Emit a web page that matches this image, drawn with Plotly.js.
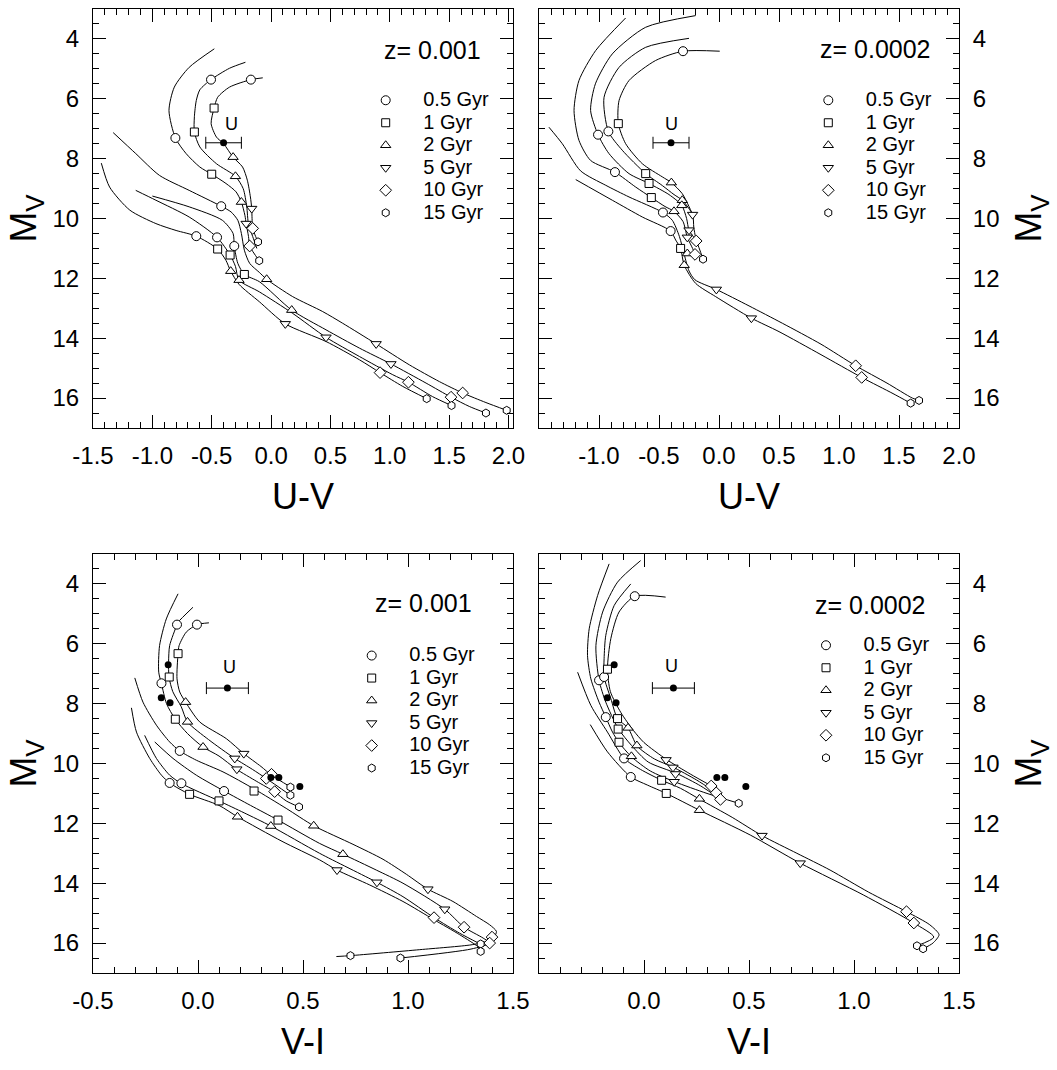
<!DOCTYPE html>
<html>
<head>
<meta charset="utf-8">
<script src="https://cdn.plot.ly/plotly-3.0.1.min.js"></script>
<style>html,body{margin:0;padding:0;background:#fff;}#chart{width:1057px;height:1070px;}</style>
</head>
<body>
<div id="chart"></div>
<script>
// ---------------- DATA ----------------
const ageLabels = ['0.5 Gyr', '1 Gyr', '2 Gyr', '5 Gyr', '10 Gyr', '15 Gyr'];
const metallicityLabels = ['z= 0.001', 'z= 0.0002', 'z= 0.001', 'z= 0.0002'];
const xTitles = ['U-V', 'U-V', 'V-I', 'V-I'];

// tick values / labels
const uvTickValsL = [-1.5, -1.0, -0.5, 0.0, 0.5, 1.0, 1.5, 2.0];
const uvTickValsR = [-1.0, -0.5, 0.0, 0.5, 1.0, 1.5, 2.0];
const viTickValsL = [-0.5, 0.0, 0.5, 1.0, 1.5];
const viTickValsR = [0.0, 0.5, 1.0, 1.5];
const mvTickVals = [4, 6, 8, 10, 12, 14, 16];

// observed object "U"
const uObjUV = {x: -0.40, y: 7.47, err: 0.15};
const uObjVI = {x: 0.14, y: 7.48, err: 0.10};

// observed stars (filled dots), V-I panels
const obsVIx = [-0.142, -0.175, -0.133, 0.347, 0.385, 0.485];
const obsVIy = [6.70, 7.80, 7.97, 10.47, 10.47, 10.77];

// ---- Top-left: U-V, z=0.001 : tracks
const tlTrackX = [
  [-0.478,-0.69,-0.815,-0.86,-0.806,-0.716,-0.60,-0.50,-0.38,-0.295,-0.25,-0.22,-0.21,-0.19,-0.18,-0.10],
  [-0.216,-0.35,-0.506,-0.60,-0.63,-0.646,-0.646,-0.60,-0.46,-0.30,-0.235,-0.205,-0.19,-0.155,-0.12],
  [-0.07,-0.17,-0.35,-0.45,-0.48,-0.505,-0.46,-0.40,-0.32,-0.24,-0.20,-0.174,-0.163,-0.16,-0.155,-0.13,-0.11],
  [-1.33,-1.14,-0.94,-0.69,-0.42,-0.337,-0.28,-0.25,-0.225,-0.18,-0.099,-0.037,0.182,0.435,0.603,0.885,1.165,1.418,1.614,1.81,1.985],
  [-1.43,-1.36,-1.19,-0.97,-0.80,-0.63,-0.45,-0.38,-0.34,-0.27,-0.099,0.12,0.463,0.744,0.918,1.109,1.311],
  [-1.14,-0.97,-0.69,-0.455,-0.345,-0.30,-0.27,-0.099,0.182,0.463,0.744,1.025,1.157,1.36,1.52],
  [-1.0,-0.69,-0.41,-0.32,-0.31,-0.28,-0.225,-0.099,0.174,0.463,0.744,1.01,1.306,1.516,1.67,1.81]
];
const tlTrackY = [
  [4.33,4.95,5.61,6.39,7.31,7.83,8.28,8.52,8.83,9.11,9.45,9.9,10.17,10.6,10.92,11.41],
  [4.78,4.98,5.36,5.7,6.06,6.6,7.11,7.61,8.17,8.59,9.0,9.6,10.2,10.6,11.0],
  [5.30,5.36,5.61,5.95,6.31,6.83,7.28,7.5,7.95,8.28,8.72,9.28,9.67,10.0,10.33,10.6,10.78],
  [7.13,7.83,8.56,9.06,9.59,9.78,10.06,10.5,11.06,11.5,11.8,12.03,12.61,13.11,13.5,14.19,14.89,15.45,15.83,16.15,16.41],
  [8.15,8.95,9.72,10.17,10.4,10.59,11.02,11.4,11.76,12.2,12.78,13.52,14.11,14.72,15.15,15.61,16.02],
  [9.06,9.39,9.95,10.63,11.22,11.6,12.06,12.45,13.17,13.97,14.61,15.22,15.47,15.95,16.25],
  [9.25,9.61,10.06,10.5,10.92,11.5,11.87,12.11,13.06,13.72,14.33,14.86,15.5,15.97,16.28,16.5]
];
// age markers (0.5,1,2,5,10,15 Gyr)
const tlAgeX = [
  [-0.506,-0.17,-0.806,-0.42,-0.63,-0.455,-0.31],
  [-0.48,-0.646,-0.50,-0.45,-0.345,-0.225],
  [-0.32,-0.30,-0.25,-0.34,-0.27,-0.037,0.174],
  [-0.163,-0.21,0.12,0.463,0.885,1.01],
  [-0.155,-0.18,0.918,1.157,1.516,1.614],
  [-0.11,-0.10,1.311,1.52,1.81,1.985]
];
const tlAgeY = [
  [5.36,5.36,7.31,9.59,10.59,10.63,10.92],
  [6.31,7.11,8.52,11.02,11.22,11.87],
  [7.95,8.59,9.45,11.76,12.06,12.03,13.06],
  [9.67,10.17,13.52,13.97,14.19,14.86],
  [10.33,10.92,15.15,15.47,15.97,15.83],
  [10.78,11.41,16.02,16.25,16.5,16.41]
];

// ---- Top-right: U-V, z=0.0002 : tracks
const trTrackX = [
  [-0.778,-1.028,-1.167,-1.208,-1.167,-1.07,-0.867,-0.694,-0.564,-0.45,-0.375,-0.30,-0.264,-0.22,-0.20],
  [-0.194,-0.611,-0.889,-1.03,-1.07,-1.008,-0.917,-0.75,-0.583,-0.417,-0.31,-0.27,-0.25,-0.19,-0.133],
  [-0.25,-0.611,-0.833,-0.958,-0.922,-0.806,-0.611,-0.472,-0.375,-0.306,-0.22,-0.21,-0.19],
  [0.006,-0.30,-0.528,-0.75,-0.833,-0.839,-0.778,-0.639,-0.472,-0.397,-0.306,-0.25,-0.22],
  [-1.417,-1.306,-1.153,-0.944,-0.75,-0.467,-0.389,-0.33,-0.29,-0.25,-0.20,-0.022,0.25,0.528,0.85,1.139,1.40,1.611,1.667],
  [-1.194,-0.889,-0.639,-0.403,-0.361,-0.32,-0.29,-0.194,-0.028,0.27,0.50,0.85,1.189,1.45,1.597]
];
const trTrackY = [
  [3.3,4.39,5.39,6.39,7.39,8.06,8.45,8.95,9.3,9.6,9.76,10.1,10.63,11.0,11.2],
  [3.22,3.61,4.5,5.5,6.39,7.2,7.83,8.5,8.83,9.2,9.56,10.0,10.39,10.75,11.36],
  [3.98,4.28,4.95,5.95,7.09,7.72,8.5,8.9,9.2,9.39,9.87,10.3,10.75],
  [4.41,4.41,4.72,5.39,6.06,6.83,7.5,8.17,8.61,8.8,9.17,9.6,9.87],
  [6.95,7.5,8.41,8.89,9.28,9.8,10.06,10.6,11.2,11.75,12.05,12.37,12.92,13.5,14.2,14.92,15.5,16.0,16.08],
  [8.7,9.39,9.95,10.42,10.72,11.0,11.56,12.17,12.61,13.33,13.78,14.55,15.31,15.85,16.17]
];
const trAgeX = [
  [-0.30,-0.922,-1.008,-0.867,-0.467,-0.403],
  [-0.839,-0.611,-0.583,-0.564,-0.32],
  [-0.397,-0.306,-0.31,-0.375,-0.264,-0.29],
  [-0.22,-0.25,-0.264,-0.022,0.27],
  [-0.19,-0.20,1.139,1.189],
  [-0.133,1.597,1.667]
];
const trAgeY = [
  [4.41,7.09,7.2,8.45,9.8,10.42],
  [6.83,8.5,8.83,9.3,11.0],
  [8.8,9.39,9.56,9.76,11.17,11.56],
  [9.87,10.39,10.63,12.37,13.33],
  [10.75,11.2,14.92,15.31],
  [11.36,16.17,16.08]
];

// ---- Bottom-left: V-I, z=0.001 : tracks
const blTrackX = [
  [-0.095,-0.151,-0.183,-0.187,-0.174,-0.15,-0.108,-0.05,0.024,0.10,0.183,0.28,0.365,0.42,0.481],
  [-0.024,-0.095,-0.10,-0.135,-0.14,-0.138,-0.12,-0.08,-0.05,0.05,0.175,0.26,0.325,0.44],
  [0.052,-0.005,-0.056,-0.09,-0.095,-0.10,-0.087,-0.059,0.008,0.135,0.218,0.30,0.35,0.44],
  [-0.301,-0.262,-0.198,-0.135,-0.087,-0.008,0.119,0.267,0.42,0.551,0.738,0.881,0.992,1.095,1.214,1.326,1.389,1.421,1.41,1.37,1.30,1.056,0.726,0.659],
  [-0.317,-0.293,-0.23,-0.174,-0.135,-0.04,0.10,0.188,0.40,0.579,0.662,0.818,0.976,1.124,1.246,1.341,1.346],
  [-0.254,-0.198,-0.135,-0.079,0.10,0.22,0.347,0.579,0.852,0.976,1.124,1.246,1.341],
  [-0.206,-0.119,-0.008,0.124,0.25,0.381,0.579,0.69,0.849,0.976,1.175,1.267,1.357,1.389,1.30,0.964]
];
const blTrackY = [
  [4.33,5.17,6.06,6.95,7.33,8.0,8.52,9.0,9.45,9.75,10.19,10.6,10.95,11.25,11.45],
  [4.78,5.28,5.36,6.06,6.6,7.11,7.6,8.1,8.61,9.2,9.83,10.2,10.5,11.06],
  [5.3,5.36,5.61,6.06,6.33,7.17,7.61,7.95,8.61,9.17,9.67,10.1,10.39,10.78],
  [7.14,7.95,8.72,9.28,9.58,9.89,10.28,10.85,11.5,12.08,12.7,13.2,13.7,14.2,14.61,15.11,15.39,15.61,15.8,15.95,16.06,16.22,16.42,16.45],
  [8.14,8.95,9.83,10.39,10.65,11.03,11.4,11.78,12.6,13.22,13.56,14.06,14.61,15.22,15.72,16.17,16.28],
  [9.06,9.83,10.39,10.67,11.25,11.65,12.09,13.0,13.97,14.45,15.15,15.67,16.02],
  [9.28,9.83,10.39,10.92,11.4,11.89,12.67,13.03,13.56,14.0,14.87,15.47,15.83,16.0,16.2,16.5]
];
const blAgeX = [
  [-0.10,-0.005,-0.174,-0.087,-0.135,-0.079,0.124],
  [-0.095,-0.137,-0.108,-0.04,0.10,0.267,0.381],
  [-0.059,-0.05,0.024,0.188,0.347,0.551,0.69],
  [0.218,0.175,0.185,0.662,0.852,1.095,1.175],
  [0.35,0.325,0.365,1.124,1.267,1.40,1.389],
  [0.44,0.44,0.481,1.346,1.346,0.726,0.964]
];
const blAgeY = [
  [5.36,5.36,7.32,9.58,10.65,10.66,10.92],
  [6.33,7.11,8.52,11.03,11.25,10.92,11.89],
  [7.95,8.61,9.45,11.78,12.09,12.08,13.03],
  [9.67,9.83,10.19,13.56,13.97,14.2,14.87],
  [10.36,10.5,10.94,15.15,15.47,15.8,16.0],
  [10.79,11.06,11.45,16.03,16.28,16.42,16.5]
];

// ---- Bottom-right: V-I, z=0.0002 : tracks
const brTrackX = [
  [-0.166,-0.221,-0.261,-0.269,-0.253,-0.214,-0.182,-0.15,-0.119,-0.059,0.03,0.146,0.30,0.451],
  [-0.016,-0.126,-0.197,-0.229,-0.214,-0.182,-0.123,-0.059,0.02,0.155,0.27,0.364],
  [-0.063,-0.142,-0.182,-0.19,-0.19,-0.158,-0.126,-0.076,-0.032,0.05,0.135,0.25,0.343],
  [0.103,-0.044,-0.119,-0.158,-0.174,-0.16,-0.11,-0.05,0.0,0.108,0.22,0.321],
  [-0.316,-0.253,-0.174,-0.095,-0.016,0.084,0.174,0.264,0.42,0.562,0.728,0.886,1.07,1.25,1.361,1.405,1.376,1.329],
  [-0.256,-0.174,-0.063,0.016,0.106,0.264,0.506,0.744,1.044,1.285,1.38,1.30]
];
const brTrackY = [
  [3.33,4.39,5.5,6.39,7.17,7.95,8.45,8.95,9.3,9.78,10.25,10.61,11.0,11.33],
  [3.22,3.94,4.94,6.06,7.22,7.95,8.83,9.4,9.95,10.33,10.75,11.19],
  [4.0,4.72,5.72,6.5,7.11,7.83,8.5,8.81,9.42,9.85,10.11,10.55,10.97],
  [4.44,4.41,4.94,5.83,6.83,7.6,8.3,8.9,9.3,9.87,10.35,10.75],
  [6.95,8.06,8.95,9.83,10.2,10.56,10.83,11.19,11.8,12.41,13.0,13.56,14.3,14.95,15.39,15.72,16.0,16.19],
  [8.7,9.61,10.45,10.72,11.0,11.56,12.39,13.33,14.39,15.33,15.8,16.09]
];
const brAgeX = [
  [-0.044,-0.214,-0.19,-0.182,-0.095,-0.063],
  [-0.174,-0.126,-0.123,-0.119,0.084,0.106],
  [-0.076,-0.034,-0.06,0.264,0.264],
  [0.105,0.138,0.15,0.144,0.562,0.744],
  [0.32,0.344,0.364,1.25,1.285],
  [0.451,1.30,1.329]
];
const brAgeY = [
  [4.41,7.22,7.11,8.45,9.83,10.45],
  [6.85,8.5,8.85,9.29,10.56,11.0],
  [8.81,9.4,9.76,11.18,11.56],
  [9.88,10.13,10.35,10.61,12.41,13.33],
  [10.75,10.98,11.2,14.95,15.33],
  [11.33,16.09,16.19]
];

// ---------------- STYLE ----------------
const FONT = 'Liberation Sans, Arial, Helvetica, sans-serif';
const ageSymbols = ['circle', 'square', 'triangle-up', 'triangle-down', 'diamond', 'hexagon'];
const ageSizes = [9, 8, 9, 9, 9, 8];
const W = 1057, H = 1070;
const px = (a, b) => [a / W, b / W];
const py = (top, bottom) => [(H - bottom) / H, (H - top) / H];
const domX = [px(93, 513), px(539, 959)];
const domY = [py(9, 428), py(554, 973)];

const panels = [
  {xa: 'x', ya: 'y', lg: 'legend', tx: tlTrackX, ty: tlTrackY, ax: tlAgeX, ay: tlAgeY, u: uObjUV, obs: false},
  {xa: 'x2', ya: 'y2', lg: 'legend2', tx: trTrackX, ty: trTrackY, ax: trAgeX, ay: trAgeY, u: uObjUV, obs: false},
  {xa: 'x3', ya: 'y3', lg: 'legend3', tx: blTrackX, ty: blTrackY, ax: blAgeX, ay: blAgeY, u: uObjVI, obs: true},
  {xa: 'x4', ya: 'y4', lg: 'legend4', tx: brTrackX, ty: brTrackY, ax: brAgeX, ay: brAgeY, u: uObjVI, obs: true}
];

const traces = [];
panels.forEach(p => {
  p.tx.forEach((xs, i) => {
    traces.push({x: xs, y: p.ty[i], xaxis: p.xa, yaxis: p.ya, mode: 'lines', type: 'scatter',
      line: {color: 'black', width: 1, shape: 'spline', smoothing: 0.7}, showlegend: false, hoverinfo: 'skip'});
  });
});
panels.forEach(p => {
  p.ax.forEach((xs, k) => {
    traces.push({x: xs, y: p.ay[k], xaxis: p.xa, yaxis: p.ya, mode: 'markers', type: 'scatter',
      name: '<span style="font-size:20px">' + ageLabels[k] + '</span>', legend: p.lg,
      marker: {symbol: ageSymbols[k], size: ageSizes[k], color: 'white', line: {color: 'black', width: 1}}});
  });
  if (p.obs) {
    traces.push({x: obsVIx, y: obsVIy, xaxis: p.xa, yaxis: p.ya, mode: 'markers', type: 'scatter',
      showlegend: false, marker: {color: 'black', size: 7}});
  }
  traces.push({x: [p.u.x], y: [p.u.y], xaxis: p.xa, yaxis: p.ya, mode: 'markers', type: 'scatter',
    showlegend: false, marker: {color: 'black', size: 7},
    error_x: {type: 'constant', value: p.u.err, color: 'black', thickness: 1, width: 6}});
});

function xAxis(range, vals, dom, anchor, title, minorStep) {
  return {domain: dom, anchor: anchor, range: range, tickmode: 'array', tickvals: vals,
    ticktext: vals.map(v => v.toFixed(1)),
    showline: true, linecolor: 'black', linewidth: 1, mirror: 'ticks',
    ticks: 'inside', ticklen: 13, tickwidth: 1, tickcolor: 'black',
    minor: {ticks: 'inside', ticklen: 6, dtick: minorStep, tick0: 0, tickcolor: 'black', tickwidth: 1, showgrid: false},
    showgrid: false, zeroline: false, ticklabelstandoff: 6,
    tickfont: {family: FONT, size: 24, color: 'black'},
    title: {text: title, font: {family: FONT, size: 36, color: 'black'}, standoff: 16}};
}
function yAxis(dom, anchor, side) {
  return {domain: dom, anchor: anchor, side: side, range: [17, 3], tickmode: 'array', tickvals: mvTickVals,
    ticktext: mvTickVals.map(String),
    showline: true, linecolor: 'black', linewidth: 1, mirror: 'ticks',
    ticks: 'inside', ticklen: 13, tickwidth: 1, tickcolor: 'black',
    minor: {ticks: 'inside', ticklen: 6, dtick: 0.5, tick0: 0, tickcolor: 'black', tickwidth: 1, showgrid: false},
    showgrid: false, zeroline: false, ticklabelstandoff: 8,
    tickfont: {family: FONT, size: 24, color: 'black'},
    title: {text: 'M<sub>V</sub>', font: {family: FONT, size: 37, color: 'black'}, standoff: side === 'left' ? 4 : 16}};
}

function legendAt(symX, firstRowY) {
  return {x: (symX - 37.5) / W, y: (H - (firstRowY - 15)) / H, xanchor: 'left', yanchor: 'top',
    bgcolor: 'rgba(0,0,0,0)', borderwidth: 0, font: {family: FONT, size: 15, color: 'black'},
    itemwidth: 65, tracegroupgap: 0, itemclick: false, itemdoubleclick: false};
}

const annotations = [];
const zPos = [[381.7, 50], [818.3, 49], [373.3, 603.3], [813.3, 605]];
const uShift = [8, 0, 2, -2];
const uUp = [19, 19, 21, 22];
panels.forEach((p, i) => {
  annotations.push({text: metallicityLabels[i], xref: 'paper', yref: 'paper',
    x: zPos[i][0] / W, y: (H - zPos[i][1]) / H, xanchor: 'left', yanchor: 'middle', showarrow: false,
    font: {family: FONT, size: 25, color: 'black'}});
  annotations.push({text: 'U', xref: p.xa, yref: p.ya, x: p.u.x, y: p.u.y, xshift: uShift[i], yshift: uUp[i],
    showarrow: false, font: {family: FONT, size: 18, color: 'black'}});
});

const layout = {
  width: W, height: H, margin: {l: 0, r: 0, t: 0, b: 0},
  paper_bgcolor: 'white', plot_bgcolor: 'white', showlegend: true,
  font: {family: FONT, color: 'black'},
  xaxis: xAxis([-1.5, 2.038], uvTickValsL, domX[0], 'y', xTitles[0], 0.1),
  yaxis: yAxis(domY[0], 'x', 'left'),
  xaxis2: xAxis([-1.5, 2.0], uvTickValsR, domX[1], 'y2', xTitles[1], 0.1),
  yaxis2: yAxis(domY[0], 'x2', 'right'),
  xaxis3: xAxis([-0.5, 1.5], viTickValsL, domX[0], 'y3', xTitles[2], 0.1),
  yaxis3: yAxis(domY[1], 'x3', 'left'),
  xaxis4: xAxis([-0.5, 1.5], viTickValsR, domX[1], 'y4', xTitles[3], 0.1),
  yaxis4: yAxis(domY[1], 'x4', 'right'),
  legend: legendAt(385.7, 99),
  legend2: legendAt(828.3, 99),
  legend3: legendAt(371.7, 654.3),
  legend4: legendAt(826, 644),
  annotations: annotations
};

Plotly.newPlot('chart', traces, layout, {staticPlot: true, displayModeBar: false});
</script>
</body>
</html>
